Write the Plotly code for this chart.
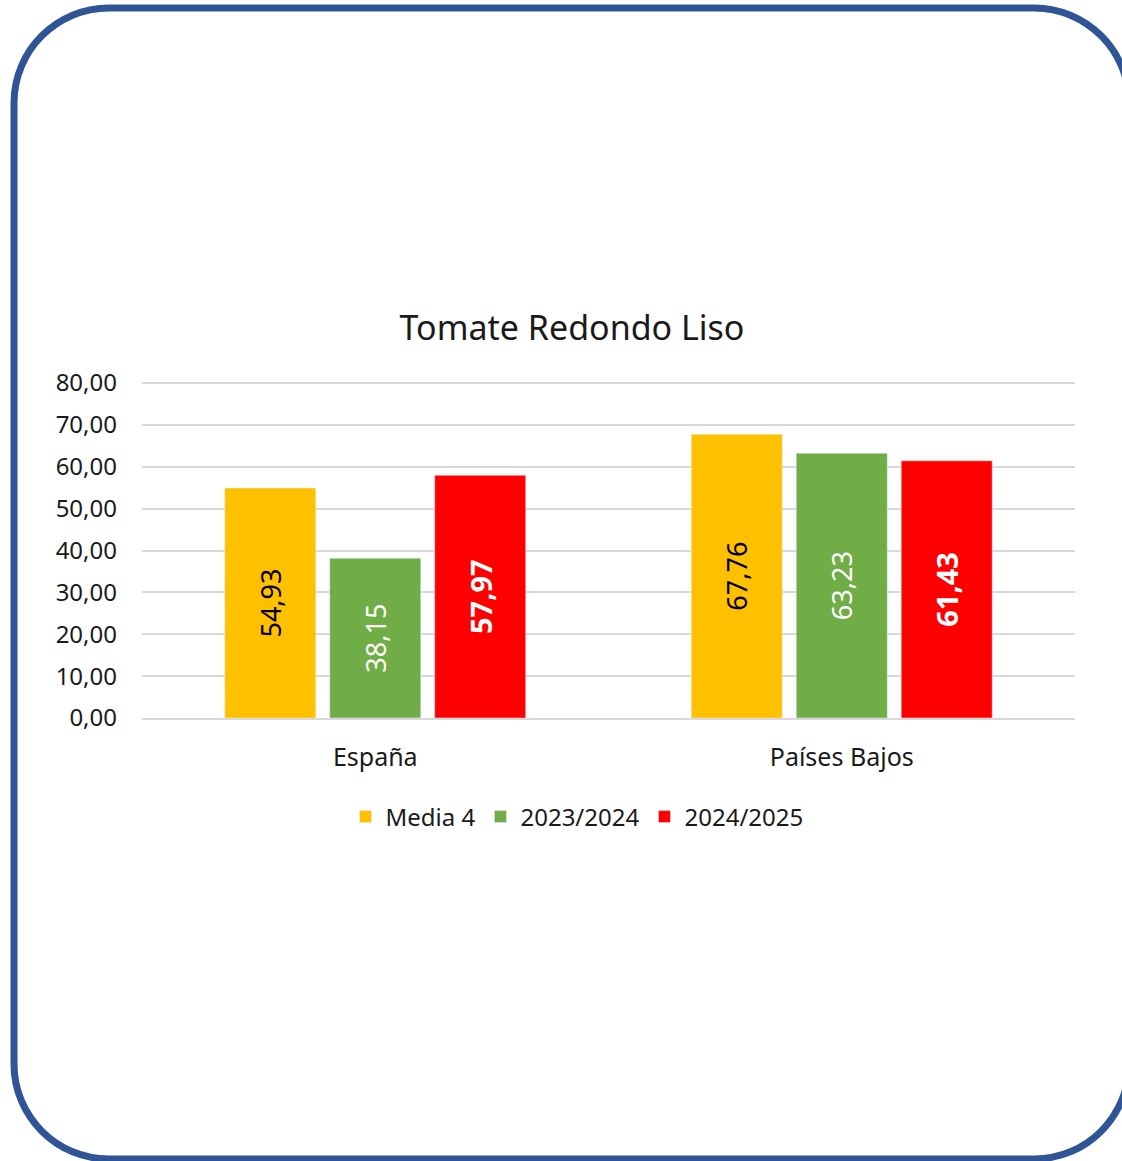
import plotly.graph_objects as go

# data
categories = ["España", "Países Bajos"]
series_names = ["Media 4", "2023/2024", "2024/2025"]
media4 = [54.93, 67.76]
campaign_2324 = [38.15, 63.23]
campaign_2425 = [57.97, 61.43]

FONT = "Noto Sans"
colors = ["#FFC000", "#70AD47", "#FF0000"]
label_fonts = [
    dict(color="black", size=27, family=FONT),
    dict(color="white", size=27, family=FONT),
    dict(color="white", size=29, family=FONT, weight="bold"),
]

W, H = 1122, 1161
ML, MR, MT, MB = 142, 47, 381, 443
PW, PH = W - ML - MR, H - MT - MB

fig = go.Figure()
for name, vals, col, tf in zip(series_names, [media4, campaign_2324, campaign_2425], colors, label_fonts):
    fig.add_trace(go.Bar(
        x=categories, y=vals, name=name, marker_color=col,
        texttemplate="%{y:.2f}", textposition="inside", insidetextanchor="middle",
        textangle=-90, textfont=tf, constraintext="none",
    ))

# rounded border frame (pixel -> paper)
def px(x):
    return (x - ML) / PW

def py(y):
    return (H - MB - y) / PH

L, T, R, B, r = 14, 8, 1129, 1159, 95
k = 0.5523 * r
pts = [
    ("M", [(L + r, T)]),
    ("L", [(R - r, T)]),
    ("C", [(R - r + k, T), (R, T + r - k), (R, T + r)]),
    ("L", [(R, B - r)]),
    ("C", [(R, B - r + k), (R - r + k, B), (R - r, B)]),
    ("L", [(L + r, B)]),
    ("C", [(L + r - k, B), (L, B - r + k), (L, B - r)]),
    ("L", [(L, T + r)]),
    ("C", [(L, T + r - k), (L + r - k, T), (L + r, T)]),
]
path = ""
for cmd, ps in pts:
    path += cmd + " ".join(f"{px(a):.5f},{py(b):.5f}" for a, b in ps) + " "
path += "Z"
fig.add_shape(type="path", path=path, xref="paper", yref="paper",
              line=dict(color="#2F5597", width=7), fillcolor="rgba(0,0,0,0)", layer="below")

fig.update_layout(
    width=W, height=H,
    margin=dict(l=ML, r=MR, t=MT, b=MB, autoexpand=False),
    paper_bgcolor="white", plot_bgcolor="white",
    font=dict(family=FONT, color="#1a1a1a"),
    separators=", ",
    title=dict(text="Tomate Redondo Liso", x=572 / W, xanchor="center",
               y=1 - 328 / H, yanchor="middle", yref="container",
               font=dict(size=34, color="#1a1a1a")),
    barmode="group", bargap=0.325, bargroupgap=0.133,
    showlegend=True,
    legend=dict(orientation="h", x=px(577), xanchor="center",
                y=py(817), yanchor="middle", font=dict(size=24),
                traceorder="normal", bgcolor="rgba(0,0,0,0)"),
)
fig.update_yaxes(range=[0, 80.5], dtick=10, tickformat=".2f", showgrid=True,
                 gridcolor="#D9D9D9", gridwidth=2, zeroline=False, showline=False,
                 tickfont=dict(size=24), ticks="", ticklabelstandoff=24)
fig.update_xaxes(showline=True, linecolor="#D9D9D9", linewidth=2,
                 tickfont=dict(size=25), ticks="", ticklabelstandoff=16)

fig.write_html("out.html", config={"displayModeBar": False},
               post_script="document.body.style.margin='0px';")
